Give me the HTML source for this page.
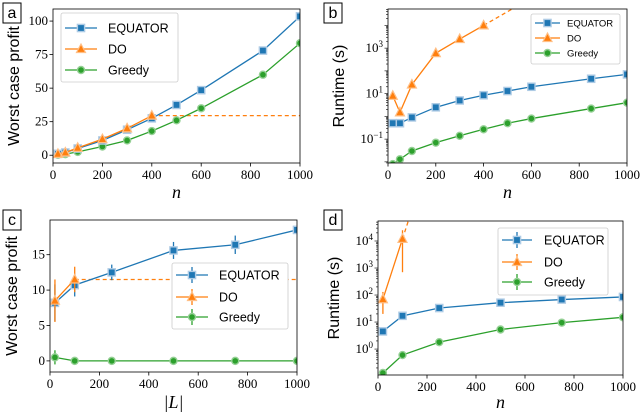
<!DOCTYPE html>
<html><head><meta charset="utf-8"><style>
body{margin:0;background:#fff;width:640px;height:415px;overflow:hidden}
svg text{font-family:"Liberation Serif",serif}
.sans{font-family:"Liberation Sans",sans-serif}
</style></head><body>
<svg id="c" width="640" height="415" viewBox="0 0 640 415" xmlns="http://www.w3.org/2000/svg"></svg>
<script>
const nA=[20,50,100,200,300,400,500,600,850,1000];
const aEq=[1,2,5,11,19,27.5,37.5,48.5,78,103.5];
const aDoN=[20,50,100,200,300,400];
const aDo=[1,2,5.5,12,20,29.5];
const aGr=[0.3,0.8,2.5,6.5,11,18,26,35,60,83.5];
const bEq=[0.5,0.5,0.9,2.5,5,8.5,13,20,45,70];
const bDo=[8,1.5,25,600,2500,10000];
const bGr=[0.008,0.013,0.03,0.07,0.14,0.27,0.5,0.8,2.2,4];
const nC=[20,100,250,500,750,1000];
const cEq=[8.2,10.7,12.5,15.6,16.4,18.5];
const cEqErr=[2.6,1.6,1.1,1.2,1.3,0.3];
const cDoN=[20,100];
const cDo=[8.5,11.5];
const cDoErr=[3,1.8];
const cGr=[0.5,0,0,0,0,0];
const cGrErr=[1,0.1,0.1,0.1,0.1,0.1];
const dEq=[4.5,17,33,52,68,85];
const dEqLo=[3.8,14,28,45,60,75];
const dEqHi=[5.5,20,38,60,78,95];
const dDo=[70,12000];
const dDoLo=[20,700];
const dDoHi=[130,25000];
const dGr=[0.13,0.6,1.8,5.3,9.5,15];
const xTicks=[0,200,400,600,800,1000];
const aYTicks=[0,25,50,75,100];
const cYTicks=[0,5,10,15];
const bYExp=[-1,1,3];
const dYExp=[0,1,2,3,4];

const BLUE='#1f77b4',ORANGE='#ff7f0e',GREEN='#2ca02c';
const svg=document.getElementById('c');
const NS='http://www.w3.org/2000/svg';
function mk(tag,at,parent){const e=document.createElementNS(NS,tag);for(const k in at)e.setAttribute(k,at[k]);(parent||svg).appendChild(e);return e;}

function panel(P){
  const g=mk('g',{});
  
  
  const X=v=>P.x0+(v-P.xmin)/(P.xmax-P.xmin)*(P.x1-P.x0);
  const Y=P.log?(v=>P.yb-(Math.log10(v)-P.ymin)/(P.ymax-P.ymin)*(P.yb-P.yt)):(v=>P.yb-(v-P.ymin)/(P.ymax-P.ymin)*(P.yb-P.yt));
  const clip='clip'+P.name;
  const cp=mk('clipPath',{id:clip},g);mk('rect',{x:P.x0,y:P.yt,width:P.x1-P.x0,height:P.yb-P.yt},cp);
  const plot=mk('g',{'clip-path':'url(#'+clip+')'},g);
  function series(xs,ys,col,marker,nm,err){
    const sg=mk('g',{},plot);
    
    
    if(err){xs.forEach((x,i)=>{const l=mk('line',{x1:X(x),x2:X(x),y1:Y(err[0][i]),y2:Y(err[1][i]),stroke:col,'stroke-width':1.3},sg);});}
    const p=mk('polyline',{points:xs.map((x,i)=>X(x)+','+Y(ys[i])).join(' '),fill:'none',stroke:col,'stroke-width':1.3},sg);
    
    xs.forEach((x,i)=>{drawMarker(sg,marker,X(x),Y(ys[i]),col,nm);});
  }
  P.series(series,X,Y,plot);
  const fr=mk('rect',{x:P.x0,y:P.yt,width:P.x1-P.x0,height:P.yb-P.yt,fill:'none',stroke:'#000','stroke-width':0.8},g);
  
  xTicks.forEach(t=>{const x=X(t);mk('line',{x1:x,x2:x,y1:P.yb,y2:P.yb+3.5,stroke:'#000','stroke-width':0.8},g);
    const tx=mk('text',{x:x,y:P.yb+16,'font-size':13,'text-anchor':'middle'},g);tx.textContent=t;});
  if(P.log){
    for(let e=Math.floor(P.ymin);e<=Math.ceil(P.ymax);e++){for(let m=1;m<10;m++){const v=Math.log10(m)+e;if(v<P.ymin||v>P.ymax)continue;const y=P.yb-(v-P.ymin)/(P.ymax-P.ymin)*(P.yb-P.yt);mk('line',{x1:P.x0-(m==1?3.5:2),x2:P.x0,y1:y,y2:y,stroke:'#000','stroke-width':0.6},g);}}
    P.yTicks.forEach(e=>{const y=Y(Math.pow(10,e));const t=mk('text',{x:P.x0-5,y:y+4,'font-size':13,'text-anchor':'end'},g);t.textContent='10';const s=mk('tspan',{dy:-5,'font-size':9},t);s.textContent=e<0?'\u2212'+(-e):e;});
  } else {
    P.yTicks.forEach(v=>{const y=Y(v);mk('line',{x1:P.x0-3.5,x2:P.x0,y1:y,y2:y,stroke:'#000','stroke-width':0.8},g);const t=mk('text',{x:P.x0-5,y:y+4,'font-size':13,'text-anchor':'end'},g);t.textContent=v;});
  }
  const yl=mk('text',{x:P.ylx,y:(P.yt+P.yb)/2,'font-size':16,'text-anchor':'middle',class:'sans',transform:`rotate(-90 ${P.ylx} ${(P.yt+P.yb)/2})`},g);
  yl.textContent=P.ylabel;
  const xl=mk('text',{x:(P.x0+P.x1)/2,y:P.xly,'font-size':18,'text-anchor':'middle','font-style':'italic'},g);
  xl.textContent=P.xlabel;
  const lb=mk('rect',{x:P.lx,y:P.ly,width:18,height:20,fill:'#fff',stroke:'#000','stroke-width':1},g);
  
  const lt=mk('text',{x:P.lx+9,y:P.ly+15,'font-size':16,'text-anchor':'middle',class:'sans'},g);lt.textContent=P.letter;
  
  const L=P.leg;const lg=mk('g',{},g);
  
  mk('rect',{x:L.x,y:L.y,width:L.w,height:L.h,rx:2,fill:'#fff',stroke:'#ccc','stroke-width':0.8},lg);
  [['EQUATOR',BLUE,'s'],['DO',ORANGE,'t'],['Greedy',GREEN,'o']].forEach((e,i)=>{
    const y=L.ys[i];const eg=mk('g',{},lg);
    
    mk('line',{x1:L.lx0,x2:L.lx1,y1:y,y2:y,stroke:e[1],'stroke-width':1.3},eg);
    if(L.err)mk('line',{x1:(L.lx0+L.lx1)/2,x2:(L.lx0+L.lx1)/2,y1:y-8,y2:y+8,stroke:e[1],'stroke-width':1.3},eg);
    drawMarker(eg,e[2],(L.lx0+L.lx1)/2,y,e[1],'legend');
    const t=mk('text',{x:L.tx,y:y+L.fs*0.36,'font-size':L.fs,class:'sans'},eg);t.textContent=e[0];
  });
}
function drawMarker(p,m,x,y,col,nm){
  let e;
  if(m=='s')e=mk('rect',{x:x-3.6,y:y-3.6,width:7.2,height:7.2,fill:col,stroke:'#aecbe5','stroke-width':1.4},p);
  else if(m=='t')e=mk('polygon',{points:`${x},${y-5} ${x+4.5},${y+3.5} ${x-4.5},${y+3.5}`,fill:col,stroke:'#ffbf86','stroke-width':1.2},p);
  else e=mk('circle',{cx:x,cy:y,r:3.5,fill:col,stroke:'#95d095','stroke-width':1.4},p);
  
  
}
function dash(plot,x1,y1,x2,y2,nm){const l=mk('line',{x1,y1,x2,y2,stroke:ORANGE,'stroke-width':1.3,'stroke-dasharray':'4,3'},plot);}

panel({name:'panel-a',letter:'a',lx:3,ly:3,x0:53,x1:300,yt:9,yb:163,xmin:0,xmax:1000,ymin:-5.8,ymax:109,yTicks:aYTicks,ylabel:'Worst case profit',ylx:19,xlabel:'n',xly:198,
 leg:{x:61,y:13,w:117,h:69,ys:[28,49,70],lx0:65,lx1:97,tx:108,fs:12.5},
 series:(S,X,Y,plot)=>{dash(plot,X(400),Y(aDo[5]),X(1000),Y(aDo[5]),'do-extrapolation');S(nA,aGr,GREEN,'o','greedy-series');S(nA,aEq,BLUE,'s','equator-series');S(aDoN,aDo,ORANGE,'t','do-series');}});
panel({name:'panel-b',letter:'b',lx:324,ly:3,x0:388,x1:627,yt:9,yb:163,xmin:0,xmax:1000,log:true,ymin:-2.05,ymax:4.72,yTicks:bYExp,ylabel:'Runtime (s)',ylx:344,xlabel:'n',xly:198,
 leg:{x:531,y:14,w:89,h:50,ys:[23,38,53],lx0:535,lx1:560,tx:567,fs:9.5},
 series:(S,X,Y,plot)=>{const s=(Math.log10(bDo[5])-Math.log10(bDo[4]))/100;dash(plot,X(400),Y(bDo[5]),X(560),Y(Math.pow(10,Math.log10(bDo[5])+s*160)),'do-extrapolation');S(nA,bGr,GREEN,'o','greedy-series');S(nA,bEq,BLUE,'s','equator-series');S(aDoN,bDo,ORANGE,'t','do-series');}});
panel({name:'panel-c',letter:'c',lx:3,ly:210,x0:50,x1:297,yt:220,yb:372,xmin:0,xmax:1000,ymin:-1.57,ymax:19.9,yTicks:cYTicks,ylabel:'Worst case profit',ylx:17,xlabel:'|L|',xly:408,
 leg:{x:172,y:263,w:116,h:66,ys:[275,297,317],lx0:176,lx1:208,tx:219,fs:12.5,err:true},
 series:(S,X,Y,plot)=>{dash(plot,X(100),Y(cDo[1]),X(1000),Y(cDo[1]),'do-extrapolation');
  S(nC,cGr,GREEN,'o','greedy-series',[cGr.map((v,i)=>v-cGrErr[i]),cGr.map((v,i)=>v+cGrErr[i])]);
  S(nC,cEq,BLUE,'s','equator-series',[cEq.map((v,i)=>v-cEqErr[i]),cEq.map((v,i)=>v+cEqErr[i])]);
  S(cDoN,cDo,ORANGE,'t','do-series',[cDo.map((v,i)=>v-cDoErr[i]),cDo.map((v,i)=>v+cDoErr[i])]);}});
panel({name:'panel-d',letter:'d',lx:324,ly:210,x0:378,x1:623,yt:221,yb:375,xmin:0,xmax:1000,log:true,ymin:-0.96,ymax:4.74,yTicks:dYExp,ylabel:'Runtime (s)',ylx:339,xlabel:'n',xly:408,
 leg:{x:498,y:228,w:110,h:67,ys:[240,262,282],lx0:502,lx1:532,tx:544,fs:12.5,err:true},
 series:(S,X,Y,plot)=>{const s=(Math.log10(dDo[1])-Math.log10(dDo[0]))/80;dash(plot,X(100),Y(dDo[1]),X(200),Y(Math.pow(10,Math.log10(dDo[1])+s*100)),'do-extrapolation');
  S(nC,dGr,GREEN,'o','greedy-series');S(nC,dEq,BLUE,'s','equator-series',[dEqLo,dEqHi]);S(cDoN,dDo,ORANGE,'t','do-series',[dDoLo,dDoHi]);}});
</script>
</body></html>
